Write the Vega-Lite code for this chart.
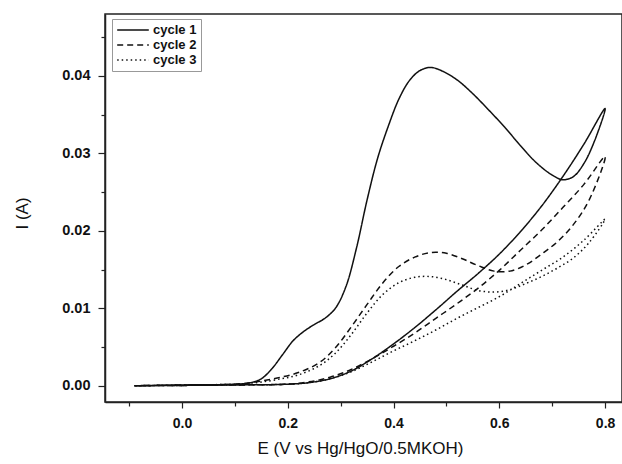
{
"$schema": "https://vega.github.io/schema/vega-lite/v6.json",
"autosize": "none",
"width": 517,
"height": 388,
"padding": {"left": 105, "top": 14, "right": 0, "bottom": 62},
"background": "white",
"config": {"view": {"stroke": "#222", "strokeWidth": 1.5}, "font": "Liberation Sans"},
"data": {"values": [
{"c":"cycle 1","k":0,"E":-0.09,"I":0},{"c":"cycle 1","k":1,"E":0,"I":0.0001},{"c":"cycle 1","k":2,"E":0.1,"I":0.0002},{"c":"cycle 1","k":3,"E":0.13,"I":0.0004},{"c":"cycle 1","k":4,"E":0.15,"I":0.0009},{"c":"cycle 1","k":5,"E":0.17,"I":0.0022},{"c":"cycle 1","k":6,"E":0.19,"I":0.004},{"c":"cycle 1","k":7,"E":0.21,"I":0.0058},{"c":"cycle 1","k":8,"E":0.23,"I":0.007},{"c":"cycle 1","k":9,"E":0.25,"I":0.0079},{"c":"cycle 1","k":10,"E":0.27,"I":0.0087},{"c":"cycle 1","k":11,"E":0.29,"I":0.01},{"c":"cycle 1","k":12,"E":0.31,"I":0.0128},{"c":"cycle 1","k":13,"E":0.33,"I":0.0178},{"c":"cycle 1","k":14,"E":0.35,"I":0.024},{"c":"cycle 1","k":15,"E":0.37,"I":0.0294},{"c":"cycle 1","k":16,"E":0.39,"I":0.0335},{"c":"cycle 1","k":17,"E":0.41,"I":0.037},{"c":"cycle 1","k":18,"E":0.43,"I":0.0394},{"c":"cycle 1","k":19,"E":0.45,"I":0.0407},{"c":"cycle 1","k":20,"E":0.47,"I":0.0411},{"c":"cycle 1","k":21,"E":0.49,"I":0.0407},{"c":"cycle 1","k":22,"E":0.52,"I":0.0395},{"c":"cycle 1","k":23,"E":0.55,"I":0.0377},{"c":"cycle 1","k":24,"E":0.58,"I":0.0356},{"c":"cycle 1","k":25,"E":0.61,"I":0.0334},{"c":"cycle 1","k":26,"E":0.64,"I":0.031},{"c":"cycle 1","k":27,"E":0.67,"I":0.0288},{"c":"cycle 1","k":28,"E":0.7,"I":0.0272},{"c":"cycle 1","k":29,"E":0.72,"I":0.0266},{"c":"cycle 1","k":30,"E":0.74,"I":0.027},{"c":"cycle 1","k":31,"E":0.76,"I":0.0287},{"c":"cycle 1","k":32,"E":0.78,"I":0.0316},{"c":"cycle 1","k":33,"E":0.8,"I":0.0358},
{"c":"cycle 1","k":34,"E":0.76,"I":0.0312},{"c":"cycle 1","k":35,"E":0.72,"I":0.027},{"c":"cycle 1","k":36,"E":0.68,"I":0.0232},{"c":"cycle 1","k":37,"E":0.64,"I":0.0199},{"c":"cycle 1","k":38,"E":0.6,"I":0.017},{"c":"cycle 1","k":39,"E":0.56,"I":0.0145},{"c":"cycle 1","k":40,"E":0.52,"I":0.0122},{"c":"cycle 1","k":41,"E":0.48,"I":0.0098},{"c":"cycle 1","k":42,"E":0.44,"I":0.0075},{"c":"cycle 1","k":43,"E":0.4,"I":0.0054},{"c":"cycle 1","k":44,"E":0.36,"I":0.0035},{"c":"cycle 1","k":45,"E":0.32,"I":0.0019},{"c":"cycle 1","k":46,"E":0.28,"I":0.0009},{"c":"cycle 1","k":47,"E":0.24,"I":0.0004},{"c":"cycle 1","k":48,"E":0.2,"I":0.0002},{"c":"cycle 1","k":49,"E":0.1,"I":0.0001},{"c":"cycle 1","k":50,"E":-0.09,"I":0},
{"c":"cycle 2","k":0,"E":-0.09,"I":0},{"c":"cycle 2","k":1,"E":0,"I":0.0001},{"c":"cycle 2","k":2,"E":0.1,"I":0.0002},{"c":"cycle 2","k":3,"E":0.14,"I":0.0005},{"c":"cycle 2","k":4,"E":0.18,"I":0.001},{"c":"cycle 2","k":5,"E":0.22,"I":0.0017},{"c":"cycle 2","k":6,"E":0.26,"I":0.003},{"c":"cycle 2","k":7,"E":0.29,"I":0.0049},{"c":"cycle 2","k":8,"E":0.32,"I":0.0076},{"c":"cycle 2","k":9,"E":0.35,"I":0.0105},{"c":"cycle 2","k":10,"E":0.38,"I":0.0133},{"c":"cycle 2","k":11,"E":0.41,"I":0.0154},{"c":"cycle 2","k":12,"E":0.44,"I":0.0166},{"c":"cycle 2","k":13,"E":0.47,"I":0.0172},{"c":"cycle 2","k":14,"E":0.5,"I":0.0171},{"c":"cycle 2","k":15,"E":0.53,"I":0.0164},{"c":"cycle 2","k":16,"E":0.56,"I":0.0155},{"c":"cycle 2","k":17,"E":0.59,"I":0.0148},{"c":"cycle 2","k":18,"E":0.62,"I":0.0148},{"c":"cycle 2","k":19,"E":0.65,"I":0.0156},{"c":"cycle 2","k":20,"E":0.68,"I":0.017},{"c":"cycle 2","k":21,"E":0.71,"I":0.0186},{"c":"cycle 2","k":22,"E":0.74,"I":0.0208},{"c":"cycle 2","k":23,"E":0.77,"I":0.024},{"c":"cycle 2","k":24,"E":0.8,"I":0.0296},
{"c":"cycle 2","k":25,"E":0.76,"I":0.026},{"c":"cycle 2","k":26,"E":0.72,"I":0.023},{"c":"cycle 2","k":27,"E":0.68,"I":0.0201},{"c":"cycle 2","k":28,"E":0.64,"I":0.0175},{"c":"cycle 2","k":29,"E":0.6,"I":0.0149},{"c":"cycle 2","k":30,"E":0.56,"I":0.0126},{"c":"cycle 2","k":31,"E":0.52,"I":0.0106},{"c":"cycle 2","k":32,"E":0.48,"I":0.0087},{"c":"cycle 2","k":33,"E":0.44,"I":0.0068},{"c":"cycle 2","k":34,"E":0.4,"I":0.0051},{"c":"cycle 2","k":35,"E":0.36,"I":0.0035},{"c":"cycle 2","k":36,"E":0.32,"I":0.0021},{"c":"cycle 2","k":37,"E":0.28,"I":0.0011},{"c":"cycle 2","k":38,"E":0.24,"I":0.0005},{"c":"cycle 2","k":39,"E":0.2,"I":0.0002},{"c":"cycle 2","k":40,"E":0.1,"I":0.0001},{"c":"cycle 2","k":41,"E":-0.09,"I":0},
{"c":"cycle 3","k":0,"E":-0.09,"I":0},{"c":"cycle 3","k":1,"E":0,"I":0.0001},{"c":"cycle 3","k":2,"E":0.1,"I":0.0002},{"c":"cycle 3","k":3,"E":0.14,"I":0.0004},{"c":"cycle 3","k":4,"E":0.18,"I":0.0008},{"c":"cycle 3","k":5,"E":0.22,"I":0.0014},{"c":"cycle 3","k":6,"E":0.26,"I":0.0026},{"c":"cycle 3","k":7,"E":0.29,"I":0.0042},{"c":"cycle 3","k":8,"E":0.32,"I":0.0066},{"c":"cycle 3","k":9,"E":0.35,"I":0.0094},{"c":"cycle 3","k":10,"E":0.38,"I":0.0118},{"c":"cycle 3","k":11,"E":0.41,"I":0.0133},{"c":"cycle 3","k":12,"E":0.44,"I":0.014},{"c":"cycle 3","k":13,"E":0.47,"I":0.0141},{"c":"cycle 3","k":14,"E":0.5,"I":0.0137},{"c":"cycle 3","k":15,"E":0.53,"I":0.013},{"c":"cycle 3","k":16,"E":0.56,"I":0.0123},{"c":"cycle 3","k":17,"E":0.59,"I":0.0121},{"c":"cycle 3","k":18,"E":0.62,"I":0.0124},{"c":"cycle 3","k":19,"E":0.65,"I":0.0132},{"c":"cycle 3","k":20,"E":0.68,"I":0.0141},{"c":"cycle 3","k":21,"E":0.71,"I":0.0152},{"c":"cycle 3","k":22,"E":0.74,"I":0.0165},{"c":"cycle 3","k":23,"E":0.77,"I":0.0185},{"c":"cycle 3","k":24,"E":0.8,"I":0.0215},
{"c":"cycle 3","k":25,"E":0.76,"I":0.0188},{"c":"cycle 3","k":26,"E":0.72,"I":0.0166},{"c":"cycle 3","k":27,"E":0.68,"I":0.0149},{"c":"cycle 3","k":28,"E":0.64,"I":0.0132},{"c":"cycle 3","k":29,"E":0.6,"I":0.0115},{"c":"cycle 3","k":30,"E":0.56,"I":0.0101},{"c":"cycle 3","k":31,"E":0.52,"I":0.0087},{"c":"cycle 3","k":32,"E":0.48,"I":0.0072},{"c":"cycle 3","k":33,"E":0.44,"I":0.0058},{"c":"cycle 3","k":34,"E":0.4,"I":0.0045},{"c":"cycle 3","k":35,"E":0.36,"I":0.0031},{"c":"cycle 3","k":36,"E":0.32,"I":0.0018},{"c":"cycle 3","k":37,"E":0.28,"I":0.0009},{"c":"cycle 3","k":38,"E":0.24,"I":0.0004},{"c":"cycle 3","k":39,"E":0.2,"I":0.0002},{"c":"cycle 3","k":40,"E":0.1,"I":0.0001},{"c":"cycle 3","k":41,"E":-0.09,"I":0}
]},
"mark": {"type": "line", "interpolate": "catmull-rom", "strokeWidth": 1.5, "color": "#111", "clip": true},
"encoding": {
"x": {"field": "E", "type": "quantitative",
"scale": {"domain": [-0.1456, 0.832], "nice": false, "zero": false},
"axis": {"title": "E (V vs Hg/HgO/0.5MKOH)", "values": [-0.1,0,0.1,0.2,0.3,0.4,0.5,0.6,0.7,0.8],
"labelExpr": "abs(datum.value/0.2 - round(datum.value/0.2)) < 0.01 ? format(datum.value, '.1f') : ''",
"tickSize": {"condition": {"test": "abs(datum.value/0.2 - round(datum.value/0.2)) < 0.01", "value": 6}, "value": 4},
"grid": false, "domainColor": "#222", "domainWidth": 1.5, "tickColor": "#222", "tickWidth": 1.2,
"labelFont": "Liberation Sans", "labelFontWeight": "bold", "labelFontSize": 14, "labelColor": "#111", "labelPadding": 8,
"titleFont": "Liberation Sans", "titleFontWeight": "normal", "titleFontSize": 17, "titleColor": "#111",
"titleX": 255, "titleY": 46, "titleBaseline": "middle", "titleAnchor": null}},
"y": {"field": "I", "type": "quantitative",
"scale": {"domain": [-0.0021, 0.048], "nice": false, "zero": false},
"axis": {"title": "I (A)", "values": [0,0.005,0.01,0.015,0.02,0.025,0.03,0.035,0.04,0.045],
"labelExpr": "abs(datum.value/0.01 - round(datum.value/0.01)) < 0.01 ? format(datum.value, '.2f') : ''",
"tickSize": {"condition": {"test": "abs(datum.value/0.01 - round(datum.value/0.01)) < 0.01", "value": 7}, "value": 4},
"grid": false, "domainColor": "#222", "domainWidth": 1.5, "tickColor": "#222", "tickWidth": 1.2,
"labelFont": "Liberation Sans", "labelFontWeight": "bold", "labelFontSize": 14.5, "labelColor": "#111", "labelPadding": 8,
"titleFont": "Liberation Sans", "titleFontWeight": "normal", "titleFontSize": 17, "titleColor": "#111",
"titleX": -83, "titleY": 199, "titleBaseline": "middle", "titleAlign": "center", "titleAngle": -90}},
"strokeDash": {"field": "c", "type": "nominal",
"scale": {"domain": ["cycle 1","cycle 2","cycle 3"], "range": [[1,0],[6,4],[1.5,3]]},
"legend": {"orient": "none", "legendX": 7, "legendY": 5, "title": null, "symbolType": "stroke", "symbolSize": 1000,
"symbolStrokeWidth": 1.5, "symbolStrokeColor": "#111", "labelFont": "Liberation Sans", "labelFontWeight": "bold",
"labelFontSize": 13, "labelColor": "#111", "padding": 4, "strokeColor": "#999", "fillColor": "white", "rowPadding": 1, "clipHeight": 14, "labelOffset": 3}},
"order": {"field": "k", "type": "quantitative"}
}
}
